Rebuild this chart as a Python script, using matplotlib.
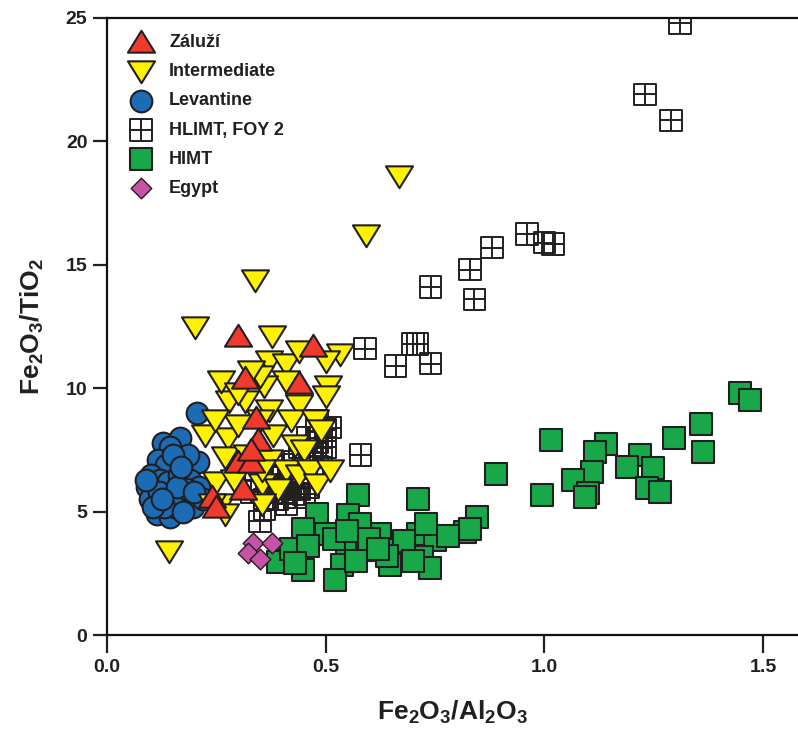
import matplotlib
matplotlib.use("Agg")
import matplotlib.pyplot as plt
from matplotlib.path import Path
import numpy as np

plt.rcParams['font.family'] = ['Liberation Sans Narrow', 'Liberation Sans', 'DejaVu Sans']
plt.rcParams['font.weight'] = 'bold'
plt.rcParams['mathtext.fontset'] = 'custom'
plt.rcParams['mathtext.rm'] = 'Liberation Sans:bold'
plt.rcParams['mathtext.bf'] = 'Liberation Sans:bold'
plt.rcParams['mathtext.it'] = 'Liberation Sans:bold'

# ---------------- data ----------------
zaluzi_x = [0.30, 0.315, 0.47, 0.44, 0.34, 0.345, 0.30, 0.33, 0.24, 0.31, 0.25, 0.33]
zaluzi_y = [12.1, 10.4, 11.7, 10.2, 8.8, 7.9, 7.0, 7.0, 5.6, 5.9, 5.2, 7.5]

inter_x = [0.667, 0.592, 0.338, 0.201, 0.533, 0.142, 0.377, 0.37, 0.41, 0.44, 0.50, 0.505,
           0.50, 0.44, 0.41, 0.36, 0.35, 0.28, 0.315, 0.37, 0.42, 0.475, 0.49, 0.224,
           0.277, 0.30, 0.38, 0.43, 0.45, 0.27, 0.32, 0.37, 0.41, 0.44, 0.464, 0.48,
           0.25, 0.29, 0.355, 0.39, 0.26, 0.27, 0.24, 0.355, 0.247, 0.26, 0.33, 0.30,
           0.35, 0.51, 0.355]
inter_y = [18.6, 16.2, 14.4, 12.5, 11.4, 3.4, 12.1, 11.1, 11.0, 11.5, 11.1, 10.1,
           9.7, 9.3, 10.3, 10.1, 10.5, 9.5, 9.5, 9.1, 8.7, 8.7, 8.3, 8.1,
           8.0, 8.5, 8.1, 7.7, 7.5, 7.2, 7.3, 7.1, 6.7, 6.5, 6.7, 6.1,
           6.2, 6.3, 6.1, 5.9, 5.3, 4.9, 5.3, 6.7, 8.7, 10.3, 10.7, 9.8,
           8.7, 6.7, 5.3]

levant_x = [0.205, 0.128, 0.167, 0.145, 0.155, 0.117, 0.208, 0.185, 0.135, 0.10, 0.121,
            0.091, 0.14, 0.165, 0.19, 0.21, 0.098, 0.137, 0.167, 0.18, 0.12, 0.114,
            0.144, 0.197, 0.22, 0.155, 0.13, 0.175, 0.105, 0.16, 0.20, 0.125, 0.15,
            0.17, 0.09]
levant_y = [9.0, 7.8, 8.0, 7.6, 7.1, 7.1, 7.0, 7.3, 6.9, 6.5, 6.3,
            6.0, 6.2, 6.5, 6.3, 6.0, 5.5, 5.6, 5.6, 5.9, 5.8, 4.9,
            4.8, 5.2, 5.5, 5.2, 5.2, 5.0, 5.2, 6.0, 5.8, 5.5, 7.3,
            6.8, 6.3]

hlimt_x = [1.31, 1.23, 1.29, 0.96, 1.00, 1.02, 0.83, 0.88, 0.84, 0.74, 0.59, 0.66,
           0.70, 0.71, 0.74, 0.58, 0.51, 0.50, 0.49,
           0.35, 0.36, 0.38, 0.40, 0.42, 0.44, 0.45, 0.47, 0.48, 0.43, 0.41, 0.37,
           0.39, 0.46, 0.48, 0.44, 0.50, 0.42, 0.40, 0.45, 0.36, 0.47, 0.49, 0.38,
           0.43, 0.33, 0.34, 0.46, 0.39, 0.41, 0.44, 0.48]
hlimt_y = [24.8, 21.9, 20.85, 16.25, 15.9, 15.85, 14.8, 15.7, 13.6, 14.1, 11.6, 10.9,
           11.8, 11.8, 11.0, 7.3, 8.4, 8.3, 8.0,
           4.6, 5.1, 5.5, 5.8, 6.2, 6.6, 7.0, 7.4, 7.8, 5.6, 5.3, 5.9,
           6.4, 6.0, 6.8, 7.6, 7.6, 6.0, 6.9, 5.7, 5.5, 6.4, 7.2, 6.8,
           7.0, 5.8, 6.3, 8.0, 5.5, 6.1, 5.9, 8.7]

himt_x = [1.447, 1.47, 1.358, 1.362, 1.296, 1.015, 1.14, 1.117, 1.218, 1.188, 1.248,
          1.108, 1.065, 1.234, 1.264, 1.10, 1.093, 0.994, 0.889,
          0.574, 0.711, 0.845, 0.818, 0.551, 0.48, 0.448, 0.50, 0.624, 0.711, 0.75,
          0.72, 0.665, 0.548, 0.594, 0.537, 0.448, 0.521, 0.647, 0.738, 0.40, 0.578,
          0.73, 0.39, 0.42, 0.83, 0.60, 0.68, 0.46, 0.52, 0.57, 0.64, 0.70, 0.78,
          0.43, 0.55, 0.62]
himt_y = [9.81, 9.52, 8.55, 7.42, 7.98, 7.9, 7.73, 7.4, 7.3, 6.8, 6.75,
          6.6, 6.28, 5.96, 5.8, 5.75, 5.6, 5.67, 6.52,
          5.67, 5.5, 4.8, 4.17, 4.86, 4.9, 4.3, 4.1, 4.1, 4.1, 3.85,
          3.16, 3.44, 3.44, 3.44, 2.84, 2.63, 2.23, 2.84, 2.71, 3.0, 4.5,
          4.5, 2.95, 3.5, 4.3, 3.9, 3.8, 3.6, 3.9, 3.0, 3.2, 3.0, 4.0,
          2.9, 4.2, 3.5]

egypt_x = [0.334, 0.377, 0.322, 0.35]
egypt_y = [3.72, 3.72, 3.32, 3.1]

labels = ['Záluží', 'Intermediate', 'Levantine', 'HLIMT, FOY 2', 'HIMT', 'Egypt']
x_ticks = [0.0, 0.5, 1.0, 1.5]
y_ticks = [0, 5, 10, 15, 20, 25]

# ---------------- markers ----------------
EDGE = '#231f20'
up_tri = Path([(-0.6, -0.45), (0.6, -0.45), (0.0, 0.52), (-0.6, -0.45)],
              [Path.MOVETO, Path.LINETO, Path.LINETO, Path.CLOSEPOLY])
down_tri = Path([(-0.6, 0.45), (0.6, 0.45), (0.0, -0.52), (-0.6, 0.45)],
                [Path.MOVETO, Path.LINETO, Path.LINETO, Path.CLOSEPOLY])
grid_sq = Path([(-1, -1), (1, -1), (1, 1), (-1, 1), (-1, -1),
                (0, -1), (0, 1), (-1, 0), (1, 0)],
               [Path.MOVETO, Path.LINETO, Path.LINETO, Path.LINETO, Path.CLOSEPOLY,
                Path.MOVETO, Path.LINETO, Path.MOVETO, Path.LINETO])

fig = plt.figure(figsize=(7.98, 7.31), dpi=100)
ax = fig.add_axes([0.134, 0.1313, 0.866, 0.8441])

lw = 1.5
h_hl = ax.scatter(hlimt_x, hlimt_y, marker=grid_sq, s=240, facecolors='none',
                  edgecolors=EDGE, linewidths=1.4, zorder=2)
h_lev = ax.scatter(levant_x, levant_y, marker='o', s=245, facecolor='#1c6cb5',
                   edgecolor=EDGE, linewidths=lw, zorder=3)
h_hi = ax.scatter(himt_x, himt_y, marker='s', s=240, facecolor='#18a84a',
                  edgecolor=EDGE, linewidths=lw, zorder=4)
h_eg = ax.scatter(egypt_x, egypt_y, marker='D', s=110, facecolor='#c653a6',
                  edgecolor=EDGE, linewidths=1.0, zorder=4.5)
h_in = ax.scatter(inter_x, inter_y, marker=down_tri, s=380, facecolor='#fff200',
                  edgecolor=EDGE, linewidths=lw, zorder=5)
h_za = ax.scatter(zaluzi_x, zaluzi_y, marker=up_tri, s=380, facecolor='#ef3a2d',
                  edgecolor=EDGE, linewidths=lw, zorder=6)

ax.set_xlim(0, 1.58)
ax.set_ylim(0, 25)
ax.set_xticks(x_ticks)
ax.set_xticklabels([f'{v:.1f}' for v in x_ticks])
ax.set_yticks(y_ticks)
ax.set_yticklabels([str(v) for v in y_ticks])
ax.spines['right'].set_visible(False)
for s in ['left', 'bottom', 'top']:
    ax.spines[s].set_linewidth(1.6)
    ax.spines[s].set_color('#111111')
    ax.spines[s].set_zorder(10)
ax.tick_params(axis='both', direction='out', length=10, width=1.6, labelsize=14,
               colors='#231f20', pad=4)
ax.tick_params(axis='x', length=13)
for t in ax.get_xticklabels() + ax.get_yticklabels():
    t.set_fontweight('bold')

ax.set_xlabel(r'$\mathrm{Fe_2O_3/Al_2O_3}$', fontsize=19, labelpad=17, color='#231f20')
ax.set_ylabel(r'$\mathrm{Fe_2O_3/TiO_2}$', fontsize=19, labelpad=14, color='#231f20')

leg = ax.legend([h_za, h_in, h_lev, h_hl, h_hi, h_eg], labels, loc='upper left',
                bbox_to_anchor=(0.005, 0.995), frameon=False, prop={'weight': 'bold', 'size': 13},
                labelspacing=0.68, handletextpad=0.55, borderaxespad=0.3, scatterpoints=1)
for t in leg.get_texts():
    t.set_color('#231f20')

fig.savefig('out.png', dpi=100)
